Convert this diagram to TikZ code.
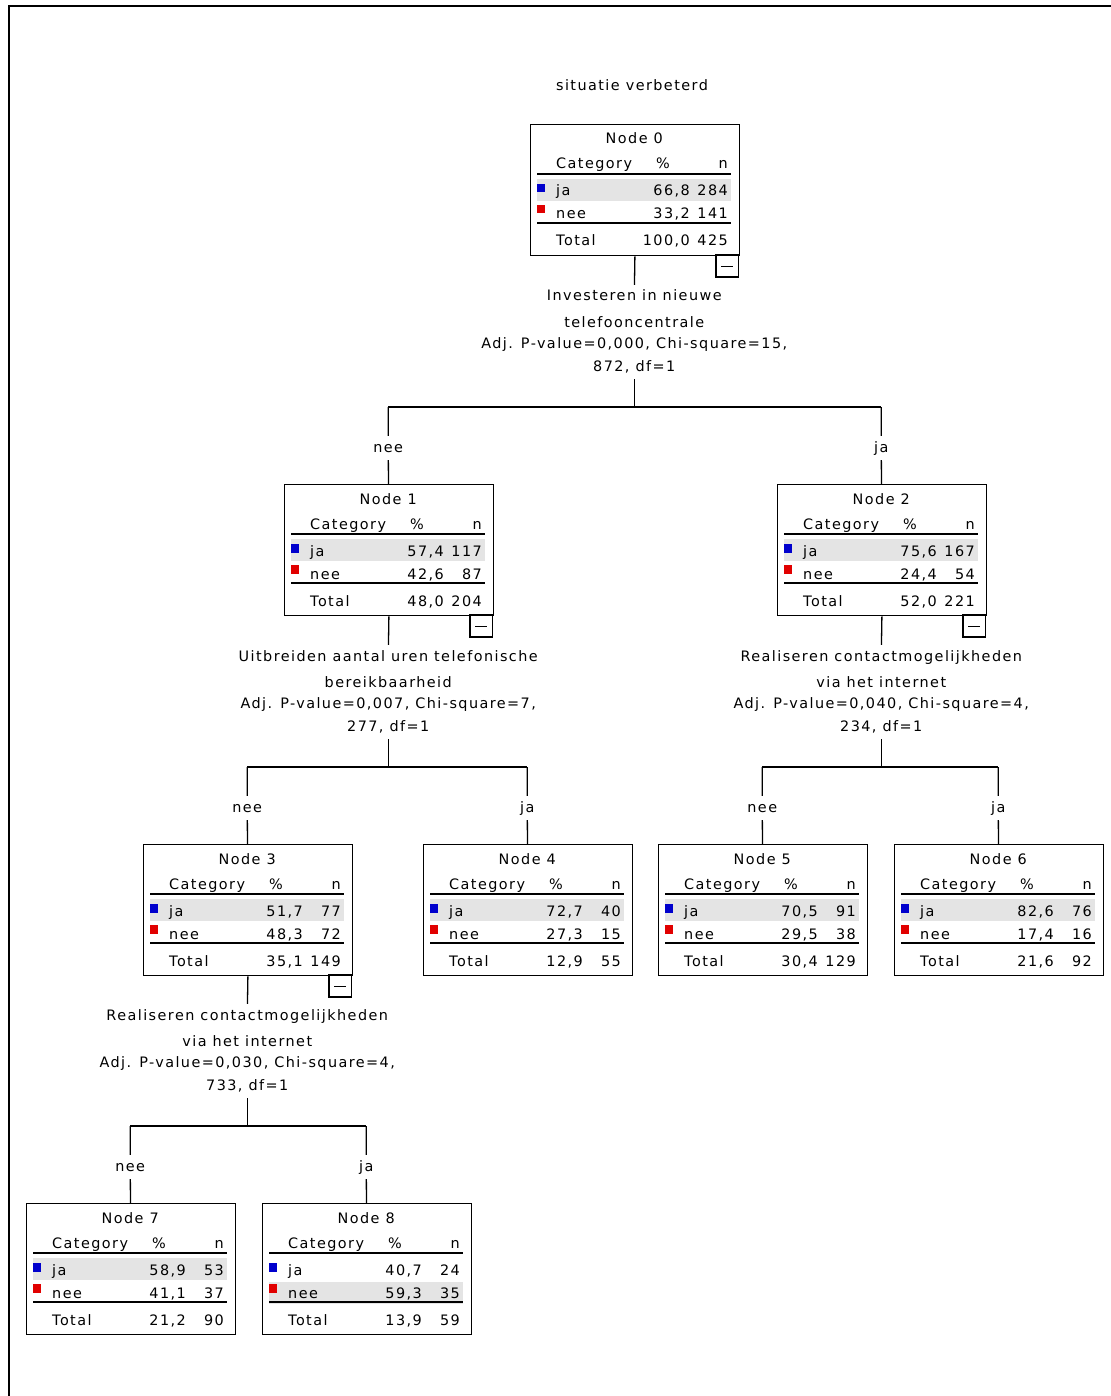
\documentclass[tikz,border=0pt]{standalone}
\usepackage{fontspec}
\setmainfont{DejaVu Sans}[LetterSpace=10]
\definecolor{spssblue}{RGB}{0,0,205}
\definecolor{spssred}{RGB}{225,0,0}
\definecolor{spssgray}{RGB}{228,228,228}
\tikzset{
  txt/.style={font=\fontsize{14.4}{17}\selectfont, inner sep=0pt, text height=11pt, text depth=3pt},
  splittxt/.style={txt, inner ysep=5pt, anchor=base},
  edgetxt/.style={txt, inner ysep=5pt, inner xsep=2pt, anchor=base},
  nodebox/.style={draw, line width=1.3pt, minimum width=208.5pt, minimum height=131pt, inner sep=0pt, anchor=north west},
  tabrule/.style={line width=1.5pt},
  conn/.style={line width=1.3pt},
  minusbox/.style={draw, line width=1.3pt},
}
\def\spssnode#1#2#3#4#5#6#7#8#9{%
  \def\sname{#1}\def\sL{#2}\def\sT{#3}\def\snum{#4}%
  \def\sjp{#5}\def\sjn{#6}\def\snp{#7}\def\snn{#8}\def\stp{#9}%
  \spssnodeaux}
\def\spssnodeaux#1#2#3{%
  \begin{scope}[shift={(\sL,\sT)}]
    \fill[spssgray] (7,#2) rectangle (201,{#2+22});
    \node[nodebox] (\sname) at (0,0) {};
    \node[txt,anchor=base] (\sname-title) at (104.25,20) {Node \snum};
    \node[txt,anchor=base west] (\sname-cat) at (26,45) {Category};
    \node[txt,anchor=base] (\sname-pct) at (133,45) {\%};
    \node[txt,anchor=base east] (\sname-n) at (198,45) {n};
    \draw[tabrule] (7,50) -- (201,50);
    \fill[spssblue] (7,60) rectangle (15,68.5);
    \node[txt,anchor=base west] (\sname-ja) at (26,72) {ja};
    \node[txt,anchor=base east] (\sname-jap) at (160,72) {\sjp};
    \node[txt,anchor=base east] (\sname-jan) at (198,72) {\sjn};
    \fill[spssred] (7,81) rectangle (15,89.5);
    \node[txt,anchor=base west] (\sname-nee) at (26,95) {nee};
    \node[txt,anchor=base east] (\sname-neep) at (160,95) {\snp};
    \node[txt,anchor=base east] (\sname-neen) at (198,95) {\snn};
    \draw[tabrule] (7,99) -- (201,99);
    \node[txt,anchor=base west] (\sname-tot) at (26,122) {Total};
    \node[txt,anchor=base east] (\sname-totp) at (160,122) {\stp};
    \node[txt,anchor=base east] (\sname-totn) at (198,122) {#1};
    \ifnum#3=1
      \draw[minusbox] (186,131) rectangle (208.5,153);
      \draw[line width=1.2pt] (191,142.5) -- (203,142.5);
    \fi
  \end{scope}
}
\begin{document}
\begin{tikzpicture}[x=1pt,y=-1pt]
\path[use as bounding box] (0,0) rectangle (1110,1396);
% outer frame (open at right and bottom)
\draw[line width=2pt] (9.3,1400) -- (9.3,6) -- (1115,6);

\node[txt,anchor=base] (title) at (632,91) {situatie verbeterd};

% nodes
\spssnode{n0}{530}{124}{0}{66,8}{284}{33,2}{141}{100,0}{425}{55}{1}
\spssnode{n1}{284}{484}{1}{57,4}{117}{42,6}{87}{48,0}{204}{55}{1}
\spssnode{n2}{777}{484}{2}{75,6}{167}{24,4}{54}{52,0}{221}{55}{1}
\spssnode{n3}{143}{844}{3}{51,7}{77}{48,3}{72}{35,1}{149}{55}{1}
\spssnode{n4}{423}{844}{4}{72,7}{40}{27,3}{15}{12,9}{55}{55}{0}
\spssnode{n5}{658}{844}{5}{70,5}{91}{29,5}{38}{30,4}{129}{55}{0}
\spssnode{n6}{894}{844}{6}{82,6}{76}{17,4}{16}{21,6}{92}{55}{0}
\spssnode{n7}{26}{1203}{7}{58,9}{53}{41,1}{37}{21,2}{90}{55}{0}
\spssnode{n8}{262}{1203}{8}{40,7}{24}{59,3}{35}{13,9}{59}{79}{0}

% split labels
\node[splittxt] (s0a) at (634.25,301) {Investeren in nieuwe};
\node[splittxt] (s0b) at (634.25,327) {telefooncentrale};
\node[splittxt] (s0c) at (634.25,348) {Adj. P-value=0,000, Chi-square=15,};
\node[splittxt] (s0d) at (634.25,371) {872, df=1};

\node[splittxt] (s1a) at (388.25,661) {Uitbreiden aantal uren telefonische};
\node[splittxt] (s1b) at (388.25,687) {bereikbaarheid};
\node[splittxt] (s1c) at (388.25,708) {Adj. P-value=0,007, Chi-square=7,};
\node[splittxt] (s1d) at (388.25,731) {277, df=1};

\node[splittxt] (s2a) at (881.25,661) {Realiseren contactmogelijkheden};
\node[splittxt] (s2b) at (881.25,687) {via het internet};
\node[splittxt] (s2c) at (881.25,708) {Adj. P-value=0,040, Chi-square=4,};
\node[splittxt] (s2d) at (881.25,731) {234, df=1};

\node[splittxt] (s3a) at (247.25,1020) {Realiseren contactmogelijkheden};
\node[splittxt] (s3b) at (247.25,1046) {via het internet};
\node[splittxt] (s3c) at (247.25,1067) {Adj. P-value=0,030, Chi-square=4,};
\node[splittxt] (s3d) at (247.25,1090) {733, df=1};

% bar coordinates
\coordinate (b0) at (634.25,407);
\coordinate (b0l) at (388.25,407);
\coordinate (b0r) at (881.25,407);
\coordinate (b1) at (388.25,767);
\coordinate (b1l) at (247.25,767);
\coordinate (b1r) at (527.25,767);
\coordinate (b2) at (881.25,767);
\coordinate (b2l) at (762.25,767);
\coordinate (b2r) at (998.25,767);
\coordinate (b3) at (247.25,1126);
\coordinate (b3l) at (130.25,1126);
\coordinate (b3r) at (366.25,1126);

% edge labels
\node[edgetxt] (e1) at (388.25,452) {nee};
\node[edgetxt] (e2) at (881.25,452) {ja};
\node[edgetxt] (e3) at (247.25,812) {nee};
\node[edgetxt] (e4) at (527.25,812) {ja};
\node[edgetxt] (e5) at (762.25,812) {nee};
\node[edgetxt] (e6) at (998.25,812) {ja};
\node[edgetxt] (e7) at (130.25,1171) {nee};
\node[edgetxt] (e8) at (366.25,1171) {ja};

% connectors
\draw[conn] (n0.south) -- (s0a);
\draw[conn] (s0d) -- (b0);
\draw[conn] (b0l) -- (b0r);
\draw[conn] (b0l) -- (e1) -- (n1);
\draw[conn] (b0r) -- (e2) -- (n2);

\draw[conn] (n1.south) -- (s1a);
\draw[conn] (s1d) -- (b1);
\draw[conn] (b1l) -- (b1r);
\draw[conn] (b1l) -- (e3) -- (n3);
\draw[conn] (b1r) -- (e4) -- (n4);

\draw[conn] (n2.south) -- (s2a);
\draw[conn] (s2d) -- (b2);
\draw[conn] (b2l) -- (b2r);
\draw[conn] (b2l) -- (e5) -- (n5);
\draw[conn] (b2r) -- (e6) -- (n6);

\draw[conn] (n3.south) -- (s3a);
\draw[conn] (s3d) -- (b3);
\draw[conn] (b3l) -- (b3r);
\draw[conn] (b3l) -- (e7) -- (n7);
\draw[conn] (b3r) -- (e8) -- (n8);
\end{tikzpicture}
\end{document}
